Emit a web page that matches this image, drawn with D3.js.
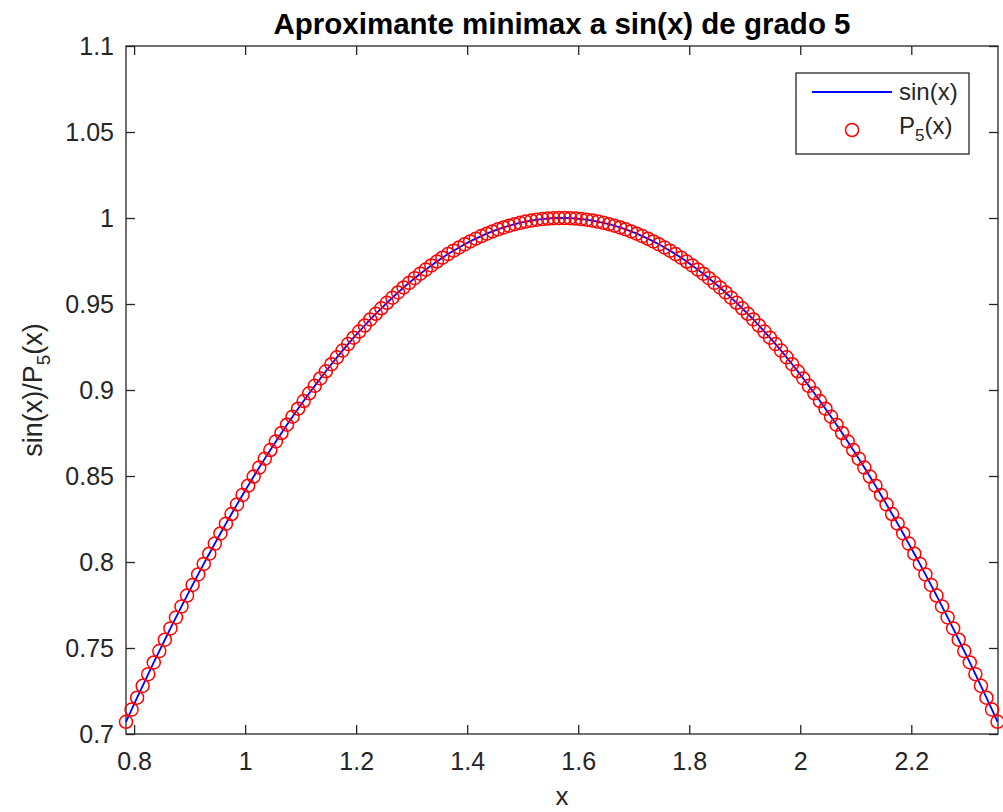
<!DOCTYPE html>
<html>
<head>
<meta charset="utf-8">
<script src="https://cdn.jsdelivr.net/npm/d3@7"></script>
<style>
  html, body { margin: 0; padding: 0; background: #fff; }
  svg { display: block; }
  text { font-family: "Liberation Sans", Arial, Helvetica, sans-serif; }
</style>
</head>
<body>
<svg id="chart" width="1003" height="812"></svg>
<script>
// ---------- data ----------
const titleText = "Aproximante minimax a sin(x) de grado 5";
const xLabelText = "x";
const xValues = [
  0.7854,0.7954,0.8054,0.8154,0.8254,0.8354,0.8454,0.8554,0.8654,0.8754,
  0.8854,0.8954,0.9054,0.9154,0.9254,0.9354,0.9454,0.9554,0.9654,0.9754,
  0.9854,0.9954,1.0054,1.0154,1.0254,1.0354,1.0454,1.0554,1.0654,1.0754,
  1.0854,1.0954,1.1054,1.1154,1.1254,1.1354,1.1454,1.1554,1.1654,1.1754,
  1.1854,1.1954,1.2054,1.2154,1.2254,1.2354,1.2454,1.2554,1.2654,1.2754,
  1.2854,1.2954,1.3054,1.3154,1.3254,1.3354,1.3454,1.3554,1.3654,1.3754,
  1.3854,1.3954,1.4054,1.4154,1.4254,1.4354,1.4454,1.4554,1.4654,1.4754,
  1.4854,1.4954,1.5054,1.5154,1.5254,1.5354,1.5454,1.5554,1.5654,1.5754,
  1.5854,1.5954,1.6054,1.6154,1.6254,1.6354,1.6454,1.6554,1.6654,1.6754,
  1.6854,1.6954,1.7054,1.7154,1.7254,1.7354,1.7454,1.7554,1.7654,1.7754,
  1.7854,1.7954,1.8054,1.8154,1.8254,1.8354,1.8454,1.8554,1.8654,1.8754,
  1.8854,1.8954,1.9054,1.9154,1.9254,1.9354,1.9454,1.9554,1.9654,1.9754,
  1.9854,1.9954,2.0054,2.0154,2.0254,2.0354,2.0454,2.0554,2.0654,2.0754,
  2.0854,2.0954,2.1054,2.1154,2.1254,2.1354,2.1454,2.1554,2.1654,2.1754,
  2.1854,2.1954,2.2054,2.2154,2.2254,2.2354,2.2454,2.2554,2.2654,2.2754,
  2.2854,2.2954,2.3054,2.3154,2.3254,2.3354,2.3454,2.3554
];
const sinValues = [
  0.7071,0.7142,0.7211,0.7280,0.7348,0.7416,0.7482,0.7548,0.7614,0.7678,
  0.7742,0.7805,0.7867,0.7928,0.7989,0.8048,0.8107,0.8166,0.8223,0.8279,
  0.8335,0.8390,0.8444,0.8497,0.8549,0.8601,0.8651,0.8701,0.8750,0.8798,
  0.8845,0.8891,0.8936,0.8981,0.9024,0.9067,0.9109,0.9150,0.9190,0.9229,
  0.9267,0.9304,0.9340,0.9375,0.9410,0.9443,0.9475,0.9507,0.9537,0.9567,
  0.9596,0.9623,0.9650,0.9676,0.9700,0.9724,0.9747,0.9769,0.9790,0.9810,
  0.9829,0.9847,0.9864,0.9880,0.9895,0.9909,0.9922,0.9934,0.9945,0.9955,
  0.9964,0.9972,0.9979,0.9985,0.9990,0.9994,0.9997,0.9999,1.0000,1.0000,
  0.9999,0.9997,0.9994,0.9990,0.9985,0.9979,0.9972,0.9964,0.9955,0.9945,
  0.9934,0.9922,0.9909,0.9895,0.9880,0.9864,0.9847,0.9829,0.9810,0.9790,
  0.9769,0.9747,0.9724,0.9700,0.9676,0.9650,0.9623,0.9596,0.9567,0.9537,
  0.9507,0.9475,0.9443,0.9410,0.9375,0.9340,0.9304,0.9267,0.9229,0.9190,
  0.9150,0.9109,0.9067,0.9024,0.8981,0.8936,0.8891,0.8845,0.8798,0.8750,
  0.8701,0.8651,0.8601,0.8549,0.8497,0.8444,0.8390,0.8335,0.8279,0.8223,
  0.8166,0.8107,0.8048,0.7989,0.7928,0.7867,0.7805,0.7742,0.7678,0.7614,
  0.7548,0.7482,0.7416,0.7348,0.7280,0.7211,0.7142,0.7071
];
const p5Values = [
  0.7071,0.7142,0.7211,0.7280,0.7348,0.7416,0.7482,0.7548,0.7614,0.7678,
  0.7742,0.7805,0.7867,0.7928,0.7989,0.8048,0.8107,0.8166,0.8223,0.8279,
  0.8335,0.8390,0.8444,0.8497,0.8549,0.8601,0.8651,0.8701,0.8750,0.8798,
  0.8845,0.8891,0.8936,0.8981,0.9024,0.9067,0.9109,0.9150,0.9190,0.9229,
  0.9267,0.9304,0.9340,0.9375,0.9410,0.9443,0.9475,0.9507,0.9537,0.9567,
  0.9596,0.9623,0.9650,0.9676,0.9700,0.9724,0.9747,0.9769,0.9790,0.9810,
  0.9829,0.9847,0.9864,0.9880,0.9895,0.9909,0.9922,0.9934,0.9945,0.9955,
  0.9964,0.9972,0.9979,0.9985,0.9990,0.9994,0.9997,0.9999,1.0000,1.0000,
  0.9999,0.9997,0.9994,0.9990,0.9985,0.9979,0.9972,0.9964,0.9955,0.9945,
  0.9934,0.9922,0.9909,0.9895,0.9880,0.9864,0.9847,0.9829,0.9810,0.9790,
  0.9769,0.9747,0.9724,0.9700,0.9676,0.9650,0.9623,0.9596,0.9567,0.9537,
  0.9507,0.9475,0.9443,0.9410,0.9375,0.9340,0.9304,0.9267,0.9229,0.9190,
  0.9150,0.9109,0.9067,0.9024,0.8981,0.8936,0.8891,0.8845,0.8798,0.8750,
  0.8701,0.8651,0.8601,0.8549,0.8497,0.8444,0.8390,0.8335,0.8279,0.8223,
  0.8166,0.8107,0.8048,0.7989,0.7928,0.7867,0.7805,0.7742,0.7678,0.7614,
  0.7548,0.7482,0.7416,0.7348,0.7280,0.7211,0.7142,0.7071
];
const xDomain = [0.7854, 2.3562];
const yDomain = [0.7, 1.1];
const xTicks = [0.8, 1.0, 1.2, 1.4, 1.6, 1.8, 2.0, 2.2];
const xTickLabels = ["0.8", "1", "1.2", "1.4", "1.6", "1.8", "2", "2.2"];
const yTicks = [0.7, 0.75, 0.8, 0.85, 0.9, 0.95, 1.0, 1.05, 1.1];
const yTickLabels = ["0.7", "0.75", "0.8", "0.85", "0.9", "0.95", "1", "1.05", "1.1"];
const legendLabels = ["sin(x)", "P5(x)"];

// ---------- layout ----------
const L = 126, R = 998, T = 46, B = 734;
const axisColor = "#262626";
const tickLen = 9;
const fs = 25;

const svg = d3.select("#chart");
const x = d3.scaleLinear().domain(xDomain).range([L, R]);
const y = d3.scaleLinear().domain(yDomain).range([B, T]);

// axes
const gx = svg.append("g").attr("transform", `translate(0,${B})`)
  .call(d3.axisBottom(x).tickValues(xTicks).tickSize(-tickLen).tickPadding(18)
    .tickFormat((d, i) => xTickLabels[i]));
const gxt = svg.append("g").attr("transform", `translate(0,${T})`)
  .call(d3.axisTop(x).tickValues(xTicks).tickSize(-tickLen).tickFormat(""));
const gy = svg.append("g").attr("transform", `translate(${L},0)`)
  .call(d3.axisLeft(y).tickValues(yTicks).tickSize(-tickLen).tickPadding(12)
    .tickFormat((d, i) => yTickLabels[i]));
const gyr = svg.append("g").attr("transform", `translate(${R},0)`)
  .call(d3.axisRight(y).tickValues(yTicks).tickSize(-tickLen).tickFormat(""));
[gx, gxt, gy, gyr].forEach(g => {
  g.select(".domain").remove();
  g.selectAll(".tick line").attr("stroke", axisColor).attr("stroke-width", 1.3);
  g.selectAll(".tick text").attr("fill", axisColor).attr("font-size", fs)
    .attr("font-family", "'Liberation Sans', Arial, sans-serif");
});

// box
svg.append("rect").attr("x", L).attr("y", T).attr("width", R - L).attr("height", B - T)
  .attr("fill", "none").attr("stroke", axisColor).attr("stroke-width", 1.3);

// data line
const pts = xValues.map((d, i) => [d, sinValues[i]]);
svg.append("path").datum(pts)
  .attr("fill", "none").attr("stroke", "#0000ff").attr("stroke-width", 1.8)
  .attr("d", d3.line().x(d => x(d[0])).y(d => y(d[1])));

// markers
svg.append("g").selectAll("circle").data(xValues.map((d, i) => [d, p5Values[i]]))
  .join("circle")
  .attr("cx", d => x(d[0])).attr("cy", d => y(d[1])).attr("r", 6.5)
  .attr("fill", "none").attr("stroke", "#ff0000").attr("stroke-width", 1.5);

// title
svg.append("text").attr("x", (L + R) / 2).attr("y", 34)
  .attr("text-anchor", "middle").attr("font-size", 29.5).attr("font-weight", "bold")
  .attr("fill", "#000").text(titleText);

// x label
svg.append("text").attr("x", (L + R) / 2).attr("y", 805)
  .attr("text-anchor", "middle").attr("font-size", 26).attr("fill", axisColor).text(xLabelText);

// y label
const yl = svg.append("text").attr("transform", `translate(42,${(T + B) / 2}) rotate(-90)`)
  .attr("text-anchor", "middle").attr("font-size", 27).attr("fill", axisColor);
yl.append("tspan").text("sin(x)/P");
yl.append("tspan").attr("font-size", 19).attr("dy", 8).text("5");
yl.append("tspan").attr("dy", -8).text("(x)");

// legend
const lg = svg.append("g");
lg.append("rect").attr("x", 796).attr("y", 73).attr("width", 173).attr("height", 81)
  .attr("fill", "#fff").attr("stroke", axisColor).attr("stroke-width", 1.3);
lg.append("line").attr("x1", 812).attr("x2", 892).attr("y1", 92).attr("y2", 92)
  .attr("stroke", "#0000ff").attr("stroke-width", 1.8);
lg.append("text").attr("x", 899).attr("y", 100).attr("font-size", 24).attr("fill", axisColor)
  .text(legendLabels[0]);
lg.append("circle").attr("cx", 852).attr("cy", 130).attr("r", 6.5)
  .attr("fill", "none").attr("stroke", "#ff0000").attr("stroke-width", 1.5);
const lt = lg.append("text").attr("x", 899).attr("y", 134).attr("font-size", 24).attr("fill", axisColor);
lt.append("tspan").text(legendLabels[1].slice(0, 1));
lt.append("tspan").attr("font-size", 17).attr("dy", 7).text(legendLabels[1].slice(1, 2));
lt.append("tspan").attr("dy", -7).text(legendLabels[1].slice(2));
</script>
</body>
</html>
